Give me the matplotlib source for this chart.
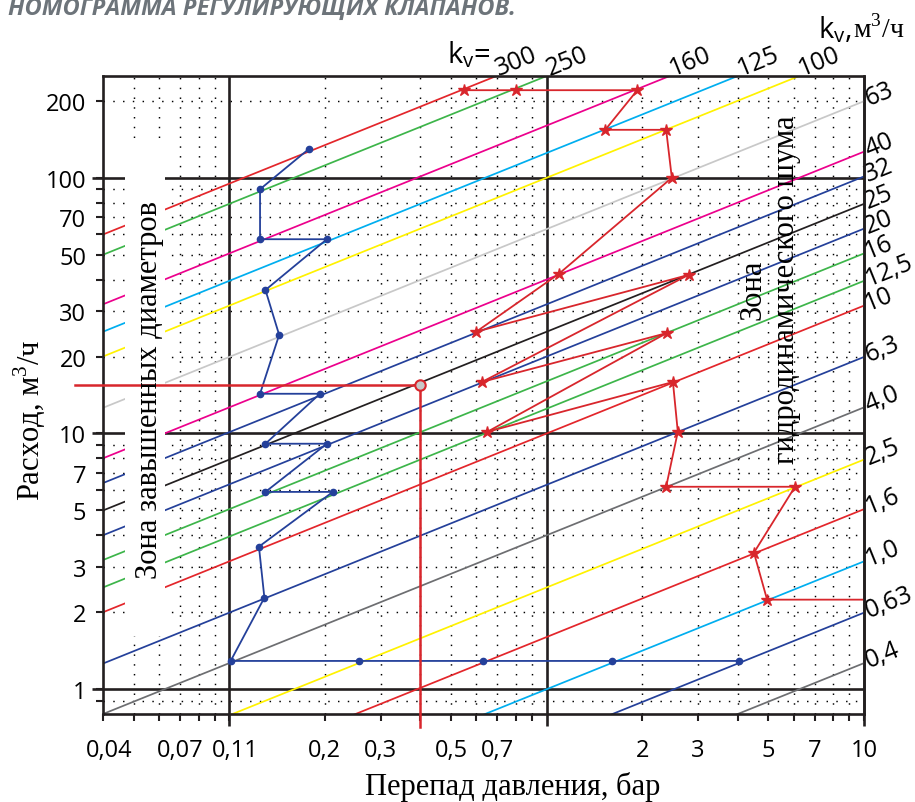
import numpy as np
import matplotlib
matplotlib.use("Agg")
import matplotlib.pyplot as plt
from matplotlib.patches import Rectangle
from matplotlib import transforms

plt.rcParams['font.family'] = ['Open Sans', 'DejaVu Sans']
SERIF = ['Liberation Serif', 'DejaVu Serif']

# kv lines, m3/h
kv_values = [300, 250, 160, 125, 100, 63, 40, 32, 25, 20, 16, 12.5, 10,
             6.3, 4.0, 2.5, 1.6, 1.0, 0.63, 0.4]
kv_colors = ['#e3262b', '#3db54a', '#ec008c', '#00aeef', '#fff200', '#c8c8c8',
             '#ec008c', '#24409a', '#231f20', '#24409a', '#3db54a', '#3db54a',
             '#e3262b', '#24409a', '#6d6e71', '#fff200', '#e3262b', '#00aeef',
             '#24409a', '#6d6e71']
kv_top = [300, 250, 160, 125, 100]
kv_top_labels = ['300', '250', '160', '125', '100']
kv_right = [63, 40, 32, 25, 20, 16, 12.5, 10, 6.3, 4.0, 2.5, 1.6, 1.0, 0.63, 0.4]
kv_right_labels = ['63', '40', '32', '25', '20', '16', '12,5', '10', '6,3',
                   '4,0', '2,5', '1,6', '1,0', '0,63', '0,4']

# axis ticks
x_ticks = [0.04, 0.07, 0.1, 0.2, 0.3, 0.5, 0.7, 2, 3, 5, 7, 10]
x_ticklabels = ['0,04', '0,07', '0,11', '0,2', '0,3', '0,5', '0,7', '2', '3', '5', '7', '10']
y_ticks = [1, 2, 3, 5, 7, 10, 20, 30, 50, 70, 100, 200]
y_ticklabels = ['1', '2', '3', '5', '7', '10', '20', '30', '50', '70', '100', '200']

# red selection path (stars)
red_dp = [0.55, 0.8, 1.93, 1.53, 2.38, 2.48, 1.09, 0.60, 2.8, 0.625, 2.39,
          0.65, 2.5, 2.59, 2.38, 6.06, 4.5, 4.95, 10]
red_q = [220, 220, 220, 154, 154, 100, 42, 25, 41.7, 15.9, 24.7,
         10.15, 15.9, 10.15, 6.19, 6.19, 3.42, 2.24, 2.24]

# blue selection path (dots)
blue_dp = [0.178, 0.125, 0.125, 0.203, 0.130, 0.1436, 0.125, 0.193, 0.130,
           0.203, 0.130, 0.212, 0.124, 0.129, 0.101, 0.256, 0.63, 1.61, 4.04]
blue_q = [129.5, 90.2, 57.5, 57.5, 36.4, 24.3, 14.3, 14.3, 9.12,
          9.12, 5.91, 5.91, 3.61, 2.28, 1.29, 1.29, 1.29, 1.29, 1.29]

# worked example
ex_dp = 0.4
ex_q = 15.5

RED = '#d8262c'
BLUE = '#24409a'

fig = plt.figure(figsize=(9.15, 8.03), dpi=100)
ax = fig.add_axes([103 / 915, 1 - 715 / 803, (864 - 103) / 915, (715 - 77) / 803])
ax.set_xscale('log')
ax.set_yscale('log')
xmin, xmax, ymin, ymax = 0.04, 10, 0.8, 250
ax.set_xlim(xmin, xmax)
ax.set_ylim(ymin, ymax)

# dotted minor grid
grid_x = [m * 10.0 ** e for e in (-2, -1, 0) for m in range(2, 10)]
grid_y = [m * 10.0 ** e for e in (-1, 0, 1, 2) for m in range(2, 10)]
for g in grid_x:
    if xmin * 1.01 < g < xmax * 0.99:
        ax.axvline(g, color='black', lw=1.05, ls=(0, (1, 5.7)), zorder=1)
for g in grid_y:
    if ymin * 1.01 < g < ymax * 0.99:
        ax.axhline(g, color='black', lw=1.05, ls=(0, (1, 5.7)), zorder=1)

# thick decade lines, poking out past the axes
tx = transforms.blended_transform_factory(ax.transData, ax.transAxes)
ty = transforms.blended_transform_factory(ax.transAxes, ax.transData)
for g in [0.1, 1, 10]:
    ax.plot([g, g], [-0.019, 1], transform=tx, color='#231f20', lw=1.9,
            clip_on=False, zorder=2, solid_capstyle='butt')
for g in [1, 10, 100]:
    ax.plot([-0.015, 1], [g, g], transform=ty, color='#231f20', lw=1.9,
            clip_on=False, zorder=2, solid_capstyle='butt')

# kv lines
dp_ends = np.array([xmin, xmax])
for kv, c in zip(kv_values, kv_colors):
    ax.plot(dp_ends, kv * np.sqrt(dp_ends), color=c, lw=1.25, zorder=2.2)

# white strip behind left zone text
ax.add_patch(Rectangle((0.0469, 1.62), 0.0627 - 0.0469, 135 - 1.62,
                       facecolor='white', edgecolor='none', zorder=3))

# selection paths
ax.plot(blue_dp, blue_q, color=BLUE, lw=1.3, marker='o', ms=4.5, zorder=4)
ax.plot(red_dp[:-1], red_q[:-1], color=RED, lw=1.3, ls='none', marker='*',
        ms=9, zorder=4.5)
ax.plot(red_dp, red_q, color=RED, lw=1.3, zorder=4)

# worked example
ax.plot([0.0327, ex_dp], [ex_q, ex_q], color=RED, lw=1.8, clip_on=False, zorder=6)
ax.plot([ex_dp, ex_dp], [ex_q, 0.71], color=RED, lw=1.8, clip_on=False, zorder=6)
ax.plot(ex_dp, ex_q, 'o', mfc='#c8c8c8', mec=RED, ms=7.5, mew=1.5, zorder=7)

# ticks
ax.set_xticks(x_ticks)
ax.set_xticklabels(x_ticklabels)
ax.set_yticks(y_ticks)
ax.set_yticklabels(y_ticklabels)
minor_x = [g for g in grid_x if xmin * 1.01 < g < xmax * 0.99 and
           min(abs(np.log10(g / t)) for t in x_ticks) > 0.01]
minor_y = [g for g in grid_y if ymin * 1.01 < g < ymax * 0.99 and
           min(abs(np.log10(g / t)) for t in y_ticks) > 0.01]
ax.set_xticks(minor_x, minor=True)
ax.set_yticks(minor_y, minor=True)
ax.xaxis.set_minor_formatter(plt.NullFormatter())
ax.yaxis.set_minor_formatter(plt.NullFormatter())
ax.tick_params(which='both', direction='out', length=5, width=1.5,
               color='#231f20', top=False, right=False)
ax.tick_params(axis='x', labelsize=17, pad=12)
ax.tick_params(axis='y', labelsize=17, pad=7)

# "0,04" and "0,11" sit a little right of their ticks
shift = transforms.ScaledTranslation(6 / 100, 0, fig.dpi_scale_trans)
for lab in ax.get_xticklabels():
    if lab.get_text() in ('0,04', '0,11'):
        lab.set_transform(lab.get_transform() + shift)

for s in ax.spines.values():
    s.set_linewidth(1.9)
    s.set_color('#231f20')
    s.set_zorder(5)

# kv labels
rot = 22
for kv, lab in zip(kv_top, kv_top_labels):
    ax.annotate(lab, xy=((ymax / kv) ** 2, ymax), xytext=(2, 1),
                textcoords='offset points', rotation=rot, rotation_mode='anchor',
                ha='left', va='baseline', fontsize=18, annotation_clip=False)
for kv, lab in zip(kv_right, kv_right_labels):
    ax.annotate(lab, xy=(xmax, kv * np.sqrt(xmax)), xytext=(3, -3),
                textcoords='offset points', rotation=rot, rotation_mode='anchor',
                ha='left', va='baseline', fontsize=18, annotation_clip=False)

fig.text(447 / 915, 1 - 63 / 803, r'k$_\mathregular{v}$=', fontsize=21, va='baseline')
fig.text(818 / 915, 1 - 38 / 803, r'k$_\mathregular{v}$,', fontsize=21, va='baseline')
fig.text(853 / 915, 1 - 38 / 803, r'м$^\mathregular{3}$/ч', fontsize=20,
         va='baseline', family=SERIF)

# zone texts
fig.text(149 / 915, 1 - 390 / 803, 'Зона завышенных диаметров', rotation=90,
         ha='center', va='center', fontsize=22, family=SERIF, zorder=8)
fig.text(770 / 915, 1 - 290 / 803, 'Зона\nгидродинамического шума', rotation=90,
         ha='center', va='center', multialignment='center', fontsize=22,
         family=SERIF, linespacing=1.2)

# axis titles
fig.text(30 / 915, 1 - 420 / 803, r'Расход, м$^\mathregular{3}$/ч', rotation=90,
         ha='center', va='center', fontsize=22, family=SERIF)
fig.text(513 / 915, 1 - 787 / 803, 'Перепад давления, бар', ha='center',
         va='center', fontsize=22, family=SERIF)

# title, cut by the top edge
fig.text(8 / 915, 1 - 15 / 803, 'НОМОГРАММА РЕГУЛИРУЮЩИХ КЛАПАНОВ.',
         fontsize=17, fontstyle='italic', fontweight='bold', color='#6d747a',
         va='baseline')

fig.savefig('out.png', dpi=100)
